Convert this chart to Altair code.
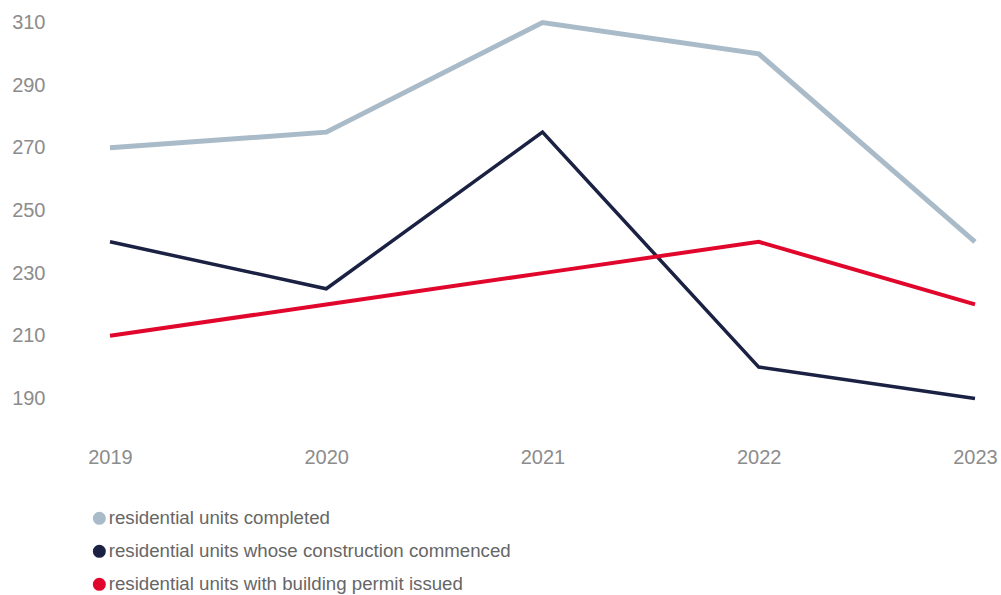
import altair as alt
import pandas as pd

years = ["2019", "2020", "2021", "2022", "2023"]
series_names = [
    "residential units completed",
    "residential units whose construction commenced",
    "residential units with building permit issued",
]
completed = [270, 275, 310, 300, 240]
commenced = [240, 225, 275, 200, 190]
permit = [210, 220, 230, 240, 220]
y_ticks = [190, 210, 230, 250, 270, 290, 310]

colors = ["#a9bbc8", "#1b2142", "#e1062c"]
widths = [5, 3.5, 4]

rows = []
for name, vals in zip(series_names, [completed, commenced, permit]):
    for i, (yr, v) in enumerate(zip(years, vals)):
        rows.append({"year": yr, "value": v, "series": name, "order": i})
df = pd.DataFrame(rows)

x_enc = alt.X(
    "year:O",
    scale=alt.Scale(type="point", padding=0),
    axis=alt.Axis(
        title=None, labelAngle=0, ticks=False, domain=False, grid=False,
        labelFontSize=20, labelColor="#8c8c8c", labelFont="Liberation Sans",
        labelPadding=11,
    ),
)
y_enc = alt.Y(
    "value:Q",
    scale=alt.Scale(domain=[178, 314], nice=False, zero=False),
    axis=alt.Axis(
        title=None, values=y_ticks, ticks=False, domain=False, grid=False,
        labelFontSize=20, labelColor="#8c8c8c", labelFont="Liberation Sans",
        labelPadding=65,
    ),
)

lines = (
    alt.Chart(df)
    .mark_line()
    .encode(
        x=x_enc,
        y=y_enc,
        color=alt.Color("series:N", scale=alt.Scale(domain=series_names, range=colors), legend=None),
        strokeWidth=alt.StrokeWidth(
            "series:N",
            scale=alt.Scale(type="ordinal", domain=series_names, range=widths),
            legend=None,
        ),
        order="order:Q",
    )
)

legend_pts = (
    alt.Chart(df)
    .mark_circle(size=0, opacity=1)
    .encode(
        x=x_enc,
        y=y_enc,
        color=alt.Color(
            "series:N",
            scale=alt.Scale(domain=series_names, range=colors),
            legend=alt.Legend(
                title=None, orient="none", legendX=-20, legendY=499,
                direction="vertical", symbolType="circle", symbolSize=170,
                labelFontSize=18.7, labelColor="#666666",
                labelFont="Liberation Sans", labelOffset=0, rowPadding=13,
                labelLimit=700, padding=0,
            ),
        ),
    )
)

chart = (
    alt.layer(lines, legend_pts)
    .resolve_scale(color="independent", strokeWidth="independent")
    .properties(
        width=865,
        height=426,
        autosize=alt.AutoSizeParams(type="none"),
        padding={"left": 110, "top": 10, "right": 26, "bottom": 159},
        background="white",
    )
    .configure_view(strokeWidth=0, stroke=None)
)

chart.save("out.html", embed_options={"renderer": "svg", "actions": False})
